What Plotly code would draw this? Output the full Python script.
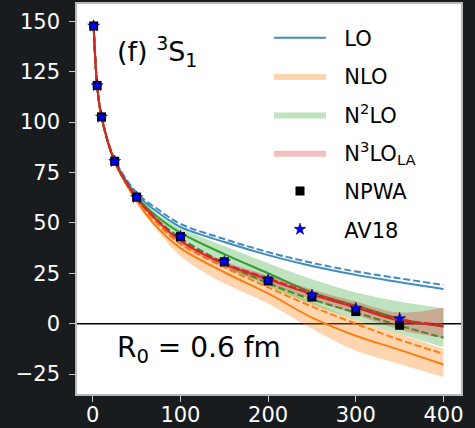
import plotly.graph_objects as go

# ---- data ----
E_data = [1, 5, 10, 25, 50, 100, 150, 200, 250, 300, 350]
npwa = [147.7, 118.2, 102.6, 80.6, 62.8, 43.2, 30.7, 21.2, 13.2, 6.0, -0.8]
av18 = [147.7, 118.1, 102.5, 80.5, 62.6, 43.2, 30.8, 21.6, 14.1, 7.6, 2.5]

E = [1, 5, 10, 25, 50, 75, 100, 150, 200, 250, 300, 350, 400]
lo_solid = [147.7, 118.3, 102.8, 81.2, 64.0, 55.0, 48.0, 40.5, 34.0, 28.6, 24.2, 20.6, 17.2]
lo_dash = [147.7, 118.4, 103.0, 81.6, 65.0, 56.5, 49.5, 42.0, 35.5, 30.2, 25.9, 22.5, 19.2]

nlo_solid = [147.7, 118.1, 102.4, 80.2, 61.0, 47.0, 37.5, 25.5, 15.0, 3.0, -6.0, -13.0, -20.3]
nlo_dash = [147.7, 118.1, 102.5, 80.4, 61.5, 49.0, 39.5, 28.0, 18.0, 8.5, 0.0, -8.0, -15.0]
nlo_hi = [147.8, 118.3, 102.8, 80.9, 62.5, 50.0, 40.5, 30.0, 21.0, 11.0, 2.0, -5.0, -12.5]
nlo_lo = [147.6, 117.9, 102.2, 79.9, 59.5, 45.5, 33.5, 20.0, 10.0, -2.5, -13.5, -20.0, -26.5]

n2lo_solid = [147.7, 118.2, 102.6, 80.7, 62.9, 52.5, 45.0, 34.5, 25.0, 15.5, 9.0, 2.5, -1.5]
n2lo_dash = [147.7, 118.2, 102.6, 80.6, 62.3, 51.0, 42.5, 30.0, 20.0, 12.0, 5.5, -1.0, -7.0]
n2lo_hi = [147.8, 118.3, 102.8, 81.0, 63.8, 54.0, 47.5, 38.5, 30.0, 22.0, 15.5, 11.0, 7.6]
n2lo_lo = [147.6, 118.1, 102.4, 80.3, 61.5, 50.0, 41.0, 28.5, 18.5, 9.5, 2.0, -5.0, -11.7]

n3lo_solid = [147.7, 118.2, 102.6, 80.6, 62.5, 50.5, 41.0, 29.5, 22.0, 14.5, 8.0, 1.5, -1.1]
n3lo_dash = [147.7, 118.2, 102.6, 80.6, 62.6, 50.8, 41.5, 30.0, 22.5, 15.0, 8.5, 2.0, -0.5]
n3lo_hi = [147.8, 118.3, 102.7, 80.8, 63.2, 51.5, 42.0, 31.0, 24.0, 17.0, 11.0, 5.5, 8.0]
n3lo_lo = [147.6, 118.1, 102.5, 80.4, 62.0, 49.5, 39.5, 28.0, 20.0, 12.0, 4.5, -3.0, -7.0]

x_ticks = [0, 100, 200, 300, 400]
y_ticks = [-25, 0, 25, 50, 75, 100, 125, 150]

C0, C1, C2, C3 = "#1f77b4", "#ff7f0e", "#2ca02c", "#d62728"
BAND = {C1: "rgba(255,127,14,0.33)", C2: "rgba(44,160,44,0.30)", C3: "rgba(214,39,40,0.30)"}
DASH = "7px,3px"
PAD = "&nbsp;&nbsp;"

fig = go.Figure()

fig.add_trace(go.Scatter(x=E, y=lo_solid, mode="lines", name=PAD + "LO", line=dict(color=C0, width=2, shape="spline"),
                         opacity=0.85, legendgroup="lo"))
fig.add_trace(go.Scatter(x=E, y=lo_dash, mode="lines", showlegend=False,
                         line=dict(color=C0, width=2, dash=DASH, shape="spline"), opacity=0.85, legendgroup="lo"))


def band(lo, hi, solid, dash, color, name, grp):
    fig.add_trace(go.Scatter(x=E, y=lo, mode="lines", line=dict(width=0, color="rgba(0,0,0,0)", shape="spline"),
                             showlegend=False, hoverinfo="skip", legendgroup=grp))
    fig.add_trace(go.Scatter(x=E, y=hi, mode="lines", line=dict(width=0, color="rgba(0,0,0,0)", shape="spline"),
                             fill="tonexty", fillcolor=BAND[color], name=PAD + name, legendgroup=grp))
    fig.add_trace(go.Scatter(x=E, y=solid, mode="lines", line=dict(color=color, width=2, shape="spline"),
                             showlegend=False, legendgroup=grp))
    fig.add_trace(go.Scatter(x=E, y=dash, mode="lines", line=dict(color=color, width=2, dash=DASH, shape="spline"),
                             showlegend=False, legendgroup=grp))


band(nlo_lo, nlo_hi, nlo_solid, nlo_dash, C1, "NLO", "nlo")
band(n2lo_lo, n2lo_hi, n2lo_solid, n2lo_dash, C2, "N<sup>2</sup>LO", "n2lo")
band(n3lo_lo, n3lo_hi, n3lo_solid, n3lo_dash, C3, "N<sup>3</sup>LO<sub>LA</sub>", "n3lo")

fig.add_hline(y=0, line=dict(color="black", width=1.5), layer="below")

fig.add_trace(go.Scatter(x=E_data, y=npwa, mode="markers", name=PAD + "NPWA", legendgroup="npwa",
                         marker=dict(symbol="square", size=9, color="black")))
fig.add_trace(go.Scatter(x=E_data, y=av18, mode="markers", name=PAD + "AV18", legendgroup="av18",
                         marker=dict(symbol="star", size=9, color="blue", line=dict(color="#000040", width=0.5))))

fig.add_annotation(x=0.098, y=0.877, xref="paper", yref="paper", xanchor="left", yanchor="middle",
                   text="(f) <sup>3</sup>S<sub>1</sub>", showarrow=False,
                   font=dict(family="DejaVu Sans", size=27, color="black"))
fig.add_annotation(x=0.098, y=0.115, xref="paper", yref="paper", xanchor="left", yanchor="middle",
                   text="R<sub>0</sub> = 0.6 fm", showarrow=False,
                   font=dict(family="DejaVu Sans", size=28, color="black"))

axis_common = dict(showgrid=False, zeroline=False, showline=True, linecolor="#b8b8b8", linewidth=1.5, mirror=True,
                   ticks="outside", ticklen=6, tickcolor="#c8c8c8", tickwidth=1, automargin=False,
                   tickfont=dict(family="DejaVu Sans", size=21, color="white"))

fig.update_layout(
    width=475, height=428,
    margin=dict(l=77, r=14, t=4, b=34),
    paper_bgcolor="#191c1e", plot_bgcolor="white",
    showlegend=True,
    legend=dict(x=0.5, y=0.965, xanchor="left", yanchor="top", bgcolor="rgba(0,0,0,0)",
                font=dict(family="DejaVu Sans", size=21, color="black"), itemwidth=52,
                traceorder="grouped", tracegroupgap=8),
    xaxis=dict(range=[-18, 420], tickvals=x_ticks, ticklabelstandoff=-5, **axis_common),
    yaxis=dict(range=[-34.9, 158.6], tickvals=y_ticks, ticktext=[str(v).replace("-", "\u2212") for v in y_ticks],
               ticklabelstandoff=5, **axis_common),
)

fig.write_html("out.html")
